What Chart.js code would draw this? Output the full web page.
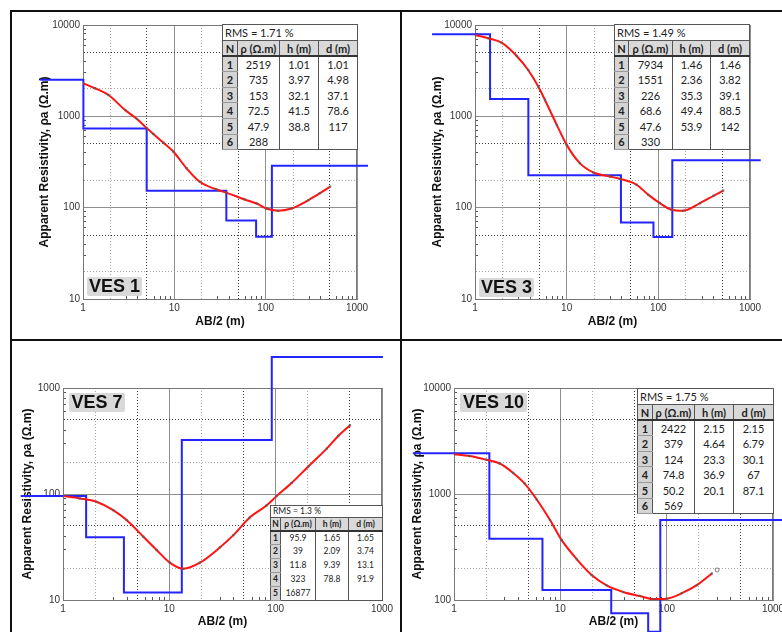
<!DOCTYPE html>
<html>
<head>
<meta charset="utf-8">
<script src="https://cdn.jsdelivr.net/npm/chart.js@4.4.1/dist/chart.umd.min.js"></script>
<style>
body { margin: 0; background: #fff; }
#wrap { position: relative; width: 782px; height: 632px; overflow: hidden; background: #fff; }
canvas { position: absolute; }
.ln { position: absolute; background: #111; z-index: 5; }
.ves { position: absolute; background: #d9d9d9; font: bold 18px "Liberation Sans", Arial, sans-serif; color: #111; text-align: center; line-height: 19px; height: 19px; z-index: 3; border-radius: 2px; }
table.res { position: absolute; border-collapse: collapse; table-layout: fixed; background: #fff; font-family: Lato, "Open Sans", sans-serif; color: #222; z-index: 3; border: 1px solid #555; }
table.res td { padding: 0; text-align: center; border-left: 1px solid #555; border-right: 1px solid #555; white-space: nowrap; overflow: hidden; line-height: 1; }
table.res tr.rms td { text-align: left; padding-left: 2px; border-bottom: 1px solid #555; }
table.res tr.hd td { background: #d9d9d9; font-weight: bold; border-bottom: 2px solid #333; }
table.res td.n { background: #d4d4d4; font-weight: bold; border-top: 1px solid #f2f2f2; border-bottom: 1px solid #999; }
table.big { font-size: 11px; }
table.big tr { height: 15.6px; }
table.big tr.rms { height: 16px; }
table.small { font-size: 8.5px; }
table.small tr { height: 14px; }
table.small tr.rms { height: 12px; }
table.small tr.hd { height: 13px; }
</style>
</head>
<body>
<div id="wrap">
  <canvas id="c1" width="400" height="340" style="left:0;top:0"></canvas>
  <canvas id="c3" width="382" height="340" style="left:400px;top:0"></canvas>
  <canvas id="c7" width="400" height="300" style="left:0;top:340px"></canvas>
  <canvas id="c10" width="382" height="300" style="left:400px;top:340px"></canvas>

  <table class="res big" id="t1" style="left:222px;top:24px;width:135px"></table>
  <table class="res big" id="t3" style="left:614px;top:24px;width:135px"></table>
  <table class="res small" id="t7" style="left:270px;top:505px;width:112px"></table>
  <table class="res big" id="t10" style="left:637px;top:388px;width:136px"></table>

  <div class="ves" style="left:87px;top:277px;width:55px">VES 1</div>
  <div class="ves" style="left:479px;top:278px;width:55px">VES 3</div>
  <div class="ves" style="left:69px;top:393px;width:56px">VES 7</div>
  <div class="ves" style="left:460px;top:393px;width:67px">VES 10</div>

  <div class="ln" style="left:10px;top:10px;width:772px;height:2px"></div>
  <div class="ln" style="left:10px;top:10px;width:2px;height:622px"></div>
  <div class="ln" style="left:400px;top:10px;width:2px;height:622px"></div>
  <div class="ln" style="left:10px;top:339px;width:772px;height:2px"></div>
</div>
<script>
// VES 1 : measured curve (AB/2, apparent resistivity) and inverted layers
const ves1Ab = [1, 1.35, 1.9, 2.9, 3.9, 5, 5.9, 7.6, 9.8, 13.6, 19, 29, 37, 59, 80, 102, 137, 192, 294, 393, 508];
const ves1Rho = [2300, 2030, 1710, 1170, 935, 740, 641, 514, 410, 270, 192, 158, 146, 123, 111, 98, 92.7, 98, 121, 144, 170];
const ves1LayerRho = [2519, 735, 153, 72.5, 47.9, 288];
const ves1LayerH = [1.01, 3.97, 32.1, 41.5, 38.8];
const ves1LayerD = [1.01, 4.98, 37.1, 78.6, 117];
const ves1ModelEnds = [0.34, 1320];

// VES 3
const ves3Ab = [1, 1.4, 1.95, 2.85, 3.8, 4.9, 5.8, 7.8, 10, 13.9, 19.5, 29.7, 38, 58, 78, 104, 140, 187, 285, 400, 510];
const ves3Rho = [7780, 7150, 6410, 4580, 3220, 2120, 1510, 806, 487, 307, 243, 219, 207, 178, 138, 112, 94.8, 92.5, 112, 135, 154];
const ves3LayerRho = [7934, 1551, 226, 68.6, 47.6, 330];
const ves3LayerH = [1.46, 2.36, 35.3, 49.4, 53.9];
const ves3LayerD = [1.46, 3.82, 39.1, 88.5, 142];
const ves3ModelEnds = [0.34, 1310];

// VES 7
const ves7Ab = [1, 1.44, 2.06, 2.96, 3.96, 5.7, 7.6, 10.1, 13.5, 19.4, 30, 40, 57, 82, 102, 141, 204, 302, 388, 500];
const ves7Rho = [95.5, 90.8, 84.4, 70.5, 56.8, 39.5, 29.6, 22.5, 19.7, 22.5, 31.4, 40.9, 60.1, 77.9, 95.5, 127, 183, 268, 353, 445];
const ves7LayerRho = [95.9, 39, 11.8, 323, 16877];
const ves7LayerH = [1.65, 2.09, 9.39, 78.8];
const ves7LayerD = [1.65, 3.74, 13.1, 91.9];
const ves7ModelEnds = [0.4, 1020];
const ves7LastShown = 1960; // the plot clamps the last layer at this level

// VES 10
const ves10Ab = [1, 1.4, 2, 2.7, 3.6, 4.6, 6, 8, 10.3, 14.3, 19.7, 27, 39, 56, 75, 100, 139, 192, 266];
const ves10Rho = [2370, 2280, 2110, 1940, 1580, 1260, 888, 568, 367, 242, 172, 138, 119, 109, 102, 103, 116, 138, 178];
const ves10OutAb = [298];
const ves10OutRho = [192];
const ves10LayerRho = [2422, 379, 124, 74.8, 50.2, 569];
const ves10LayerH = [2.15, 4.64, 23.3, 36.9, 20.1];
const ves10LayerD = [2.15, 6.79, 30.1, 67, 87.1];
const ves10ModelEnds = [0.41, 1400];

const decadeLabels = [1, 10, 100, 1000, 10000];

function mant(v) {
  return Math.round(v / Math.pow(10, Math.floor(Math.log10(v) + 1e-9)));
}

function gridValues(min, max) {
  const out = [];
  for (let k = Math.round(Math.log10(min)); k < Math.round(Math.log10(max)); k++) {
    for (let m = 1; m < 10; m++) out.push(m * Math.pow(10, k));
  }
  out.push(max);
  return out;
}

function gridColor(v) {
  const m = mant(v);
  if (m === 1) return '#8f8f8f';
  if (m === 5) return '#3a3a3a';
  if (m === 2) return '#a8a8a8';
  return 'transparent';
}

function axisOpts(axis, min, max, size) {
  return {
    type: 'logarithmic',
    position: axis === 'x' ? 'bottom' : 'left',
    min: min,
    max: max,
    afterBuildTicks: s => { s.ticks = gridValues(min, max).map(v => ({ value: v })); },
    afterFit: s => {
      if (axis === 'x') { s.height = size; s.paddingLeft = 0; s.paddingRight = 0; }
      else { s.width = size; s.paddingTop = 0; s.paddingBottom = 0; }
    },
    ticks: {
      autoSkip: false,
      maxRotation: 0,
      padding: 6,
      color: '#333',
      font: { family: 'Liberation Sans', size: 10 },
      callback: v => decadeLabels.includes(v) ? String(v) : ''
    },
    grid: {
      color: c => c.tick ? gridColor(c.tick.value) : 'transparent',
      lineWidth: 1,
      drawTicks: true,
      tickLength: -3,
      tickColor: c => (c.tick && [3, 4, 6, 7, 8, 9].includes(mant(c.tick.value))) ? '#555' : 'transparent'
    },
    border: {
      color: '#777',
      dash: c => (c.tick && mant(c.tick.value) !== 1) ? [1, 2] : []
    },
    title: {
      display: true,
      text: axis === 'x' ? 'AB/2 (m)' : 'Apparent Resistivity, ρa (Ω.m)',
      color: '#111',
      font: { family: 'Liberation Sans', size: 12, weight: 'bold' },
      padding: { top: 4, bottom: 4 }
    }
  };
}

function modelLine(rho, depth, ends) {
  const pts = [{ x: ends[0], y: rho[0] }];
  depth.forEach((d, i) => {
    pts.push({ x: d, y: rho[i] }, { x: d, y: rho[i + 1] });
  });
  pts.push({ x: ends[1], y: rho[rho.length - 1] });
  return pts;
}

function pairs(xs, ys) {
  return xs.map((x, i) => ({ x: x, y: ys[i] }));
}

const frame = {
  id: 'frame',
  beforeDatasetsDraw(chart) {
    const { ctx, chartArea: a } = chart;
    ctx.save();
    ctx.strokeStyle = '#777';
    ctx.lineWidth = 1;
    ctx.strokeRect(a.left + 0.5, a.top + 0.5, a.right - a.left - 1, a.bottom - a.top);
    ctx.restore();
  }
};

function drawPanel(id, pad, yW, xH, yRange, obs, model, outliers) {
  const datasets = [
    { data: model, showLine: true, borderColor: '#2424ff', borderWidth: 2, pointRadius: 0, clip: false, order: 3 },
    { data: obs, showLine: true, borderColor: '#ff1414', borderWidth: 2, pointRadius: 0, cubicInterpolationMode: 'monotone', clip: false, order: 2 },
    { data: obs, showLine: false, pointStyle: 'rect', pointRadius: 1.6, backgroundColor: 'rgba(90,90,90,0.8)', borderWidth: 0, order: 1 }
  ];
  if (outliers) {
    datasets.push({ data: outliers, showLine: false, pointStyle: 'circle', pointRadius: 2, backgroundColor: '#fff', borderColor: '#777', borderWidth: 1, order: 0 });
  }
  new Chart(document.getElementById(id), {
    type: 'scatter',
    data: { datasets: datasets },
    options: {
      responsive: false,
      animation: false,
      devicePixelRatio: 1,
      events: [],
      layout: { padding: pad },
      scales: {
        x: axisOpts('x', 1, 1000, xH),
        y: axisOpts('y', yRange[0], yRange[1], yW)
      },
      plugins: { legend: { display: false }, tooltip: { enabled: false } }
    },
    plugins: [frame]
  });
}

drawPanel('c1', { left: 33, top: 25, right: 43, bottom: 7 }, 50, 34, [10, 10000],
  pairs(ves1Ab, ves1Rho), modelLine(ves1LayerRho, ves1LayerD, ves1ModelEnds));
drawPanel('c3', { left: 26, top: 25, right: 32, bottom: 7 }, 49, 34, [10, 10000],
  pairs(ves3Ab, ves3Rho), modelLine(ves3LayerRho, ves3LayerD, ves3ModelEnds));
drawPanel('c7', { left: 16, top: 48, right: 18, bottom: 7 }, 47, 33, [10, 1000],
  pairs(ves7Ab, ves7Rho), modelLine(ves7LayerRho.slice(0, -1).concat([ves7LastShown]), ves7LayerD, ves7ModelEnds));
drawPanel('c10', { left: 6, top: 48, right: 9, bottom: 7 }, 48, 33, [100, 10000],
  pairs(ves10Ab, ves10Rho), modelLine(ves10LayerRho, ves10LayerD, ves10ModelEnds), pairs(ves10OutAb, ves10OutRho));

// layer tables
function buildTable(id, rms, rho, h, d, widths) {
  let html = '<colgroup>' + widths.map(w => `<col style="width:${w}px">`).join('') + '</colgroup>';
  html += `<tr class="rms"><td colspan="4">RMS = ${rms} %</td></tr>`;
  html += '<tr class="hd"><td>N</td><td>ρ (Ω.m)</td><td>h (m)</td><td>d (m)</td></tr>';
  rho.forEach((r, i) => {
    html += `<tr><td class="n">${i + 1}</td><td>${r}</td><td>${h[i] !== undefined ? h[i] : ''}</td><td>${d[i] !== undefined ? d[i] : ''}</td></tr>`;
  });
  document.getElementById(id).innerHTML = html;
}

buildTable('t1', '1.71', ves1LayerRho, ves1LayerH, ves1LayerD, [15, 42, 39, 39]);
buildTable('t3', '1.49', ves3LayerRho, ves3LayerH, ves3LayerD, [14, 44, 38, 39]);
buildTable('t7', '1.3', ves7LayerRho, ves7LayerH, ves7LayerD, [10, 35, 33, 34]);
buildTable('t10', '1.75', ves10LayerRho, ves10LayerH, ves10LayerD, [15, 42, 39, 40]);
</script>
</body>
</html>
